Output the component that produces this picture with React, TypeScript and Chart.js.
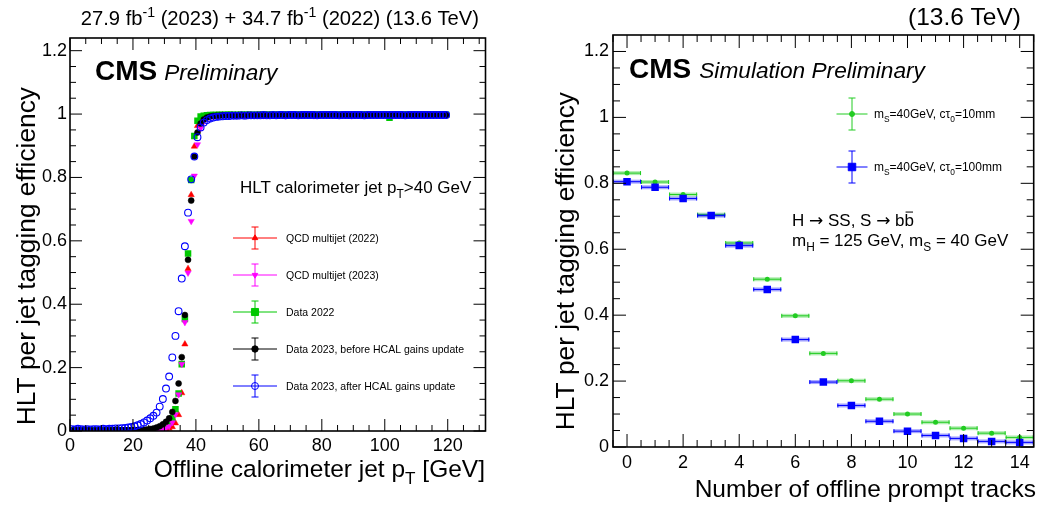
import React, { useEffect, useRef } from 'react';
import { Chart, registerables } from 'chart.js';
Chart.register(...registerables);

const FONT = '"Liberation Sans", Arial, Helvetica, sans-serif';
const SYMFONT = '"DejaVu Sans", "Liberation Sans", sans-serif';

// ---------------- Left panel data ----------------
const ptBins = [
  0.5, 1.5, 2.5, 3.5, 4.5, 5.5, 6.5, 7.5, 8.5, 9.5,
  10.5, 11.5, 12.5, 13.5, 14.5, 15.5, 16.5, 17.5, 18.5, 19.5,
  20.5, 21.5, 22.5, 23.5, 24.5, 25.5, 26.5, 27.5, 28.5, 29.5,
  30.5, 31.5, 32.5, 33.5, 34.5, 35.5, 36.5, 37.5, 38.5, 39.5,
  40.5, 41.5, 42.5, 43.5, 44.5, 45.5, 46.5, 47.5, 48.5, 49.5,
  50.5, 51.5, 52.5, 53.5, 54.5, 55.5, 56.5, 57.5, 58.5, 59.5,
  60.5, 61.5, 62.5, 63.5, 64.5, 65.5, 66.5, 67.5, 68.5, 69.5,
  70.5, 71.5, 72.5, 73.5, 74.5, 75.5, 76.5, 77.5, 78.5, 79.5,
  80.5, 81.5, 82.5, 83.5, 84.5, 85.5, 86.5, 87.5, 88.5, 89.5,
  90.5, 91.5, 92.5, 93.5, 94.5, 95.5, 96.5, 97.5, 98.5, 99.5,
  100.5, 101.5, 102.5, 103.5, 104.5, 105.5, 106.5, 107.5, 108.5, 109.5,
  110.5, 111.5, 112.5, 113.5, 114.5, 115.5, 116.5, 117.5, 118.5, 119.5,
];

const qcd2022 = [
  0.000, 0.001, 0.000, 0.001, 0.000, 0.001, 0.000, 0.001, 0.001, 0.000,
  0.001, 0.000, 0.001, 0.001, 0.000, 0.001, 0.001, 0.001, 0.000, 0.001,
  0.001, 0.001, 0.001, 0.001, 0.001, 0.001, 0.001, 0.001, 0.002, 0.003,
  0.005, 0.008, 0.013, 0.025, 0.051, 0.120, 0.274, 0.512, 0.745, 0.898,
  0.963, 0.984, 0.991, 0.994, 0.995, 0.996, 0.996, 0.996, 0.997, 0.996,
  0.997, 0.996, 0.997, 0.997, 0.996, 0.997, 0.997, 0.997, 0.996, 0.997,
  0.997, 0.997, 0.996, 0.997, 0.997, 0.997, 0.997, 0.996, 0.997, 0.997,
  0.997, 0.997, 0.997, 0.997, 0.996, 0.997, 0.997, 0.997, 0.997, 0.997,
  0.997, 0.996, 0.997, 0.997, 0.997, 0.997, 0.997, 0.997, 0.996, 0.997,
  0.997, 0.997, 0.997, 0.997, 0.997, 0.996, 0.997, 0.997, 0.997, 0.997,
  0.997, 0.997, 0.997, 0.996, 0.997, 0.997, 0.997, 0.997, 0.997, 0.997,
  0.996, 0.997, 0.997, 0.997, 0.997, 0.997, 0.997, 0.997, 0.997, 0.997,
];

const qcd2023 = [
  0.001, 0.001, 0.001, 0.001, 0.001, 0.001, 0.001, 0.001, 0.001, 0.001,
  0.001, 0.001, 0.001, 0.001, 0.001, 0.001, 0.001, 0.001, 0.001, 0.001,
  0.001, 0.001, 0.001, 0.001, 0.001, 0.001, 0.002, 0.003, 0.004, 0.006,
  0.009, 0.015, 0.027, 0.052, 0.115, 0.211, 0.343, 0.499, 0.662, 0.805,
  0.904, 0.955, 0.976, 0.986, 0.990, 0.992, 0.993, 0.994, 0.995, 0.995,
  0.995, 0.996, 0.995, 0.996, 0.996, 0.995, 0.996, 0.996, 0.996, 0.996,
  0.996, 0.995, 0.996, 0.996, 0.996, 0.996, 0.996, 0.996, 0.995, 0.996,
  0.996, 0.996, 0.996, 0.996, 0.996, 0.996, 0.996, 0.995, 0.996, 0.996,
  0.996, 0.996, 0.996, 0.996, 0.996, 0.996, 0.996, 0.996, 0.996, 0.995,
  0.996, 0.996, 0.996, 0.996, 0.996, 0.996, 0.996, 0.996, 0.996, 0.996,
  0.996, 0.996, 0.995, 0.996, 0.996, 0.996, 0.996, 0.996, 0.996, 0.996,
  0.996, 0.996, 0.996, 0.996, 0.996, 0.996, 0.996, 0.996, 0.996, 0.996,
];

const data2022 = [
  0.001, 0.001, 0.001, 0.001, 0.001, 0.001, 0.001, 0.001, 0.001, 0.001,
  0.001, 0.001, 0.001, 0.001, 0.001, 0.002, 0.001, 0.001, 0.002, 0.001,
  0.002, 0.002, 0.002, 0.002, 0.002, 0.002, 0.003, 0.005, 0.007, 0.011,
  0.017, 0.026, 0.040, 0.069, 0.118, 0.211, 0.353, 0.560, 0.792, 0.931,
  0.979, 0.992, 0.995, 0.996, 0.997, 0.997, 0.997, 0.998, 0.997, 0.998,
  0.998, 0.998, 0.997, 0.998, 0.998, 0.998, 0.998, 0.998, 0.997, 0.998,
  0.998, 0.998, 0.998, 0.998, 0.998, 0.997, 0.998, 0.998, 0.998, 0.998,
  0.998, 0.998, 0.998, 0.998, 0.998, 0.998, 0.997, 0.998, 0.998, 0.998,
  0.998, 0.998, 0.998, 0.998, 0.998, 0.998, 0.998, 0.998, 0.997, 0.998,
  0.998, 0.998, 0.998, 0.998, 0.998, 0.998, 0.998, 0.998, 0.998, 0.998,
  0.998, 0.988, 0.998, 0.998, 0.998, 0.998, 0.998, 0.998, 0.998, 0.998,
  0.998, 0.998, 0.998, 0.998, 0.998, 0.998, 0.998, 0.998, 0.998, 0.998,
];

const data2023Before = [
  0.002, 0.002, 0.003, 0.002, 0.002, 0.003, 0.002, 0.002, 0.002, 0.003,
  0.002, 0.003, 0.002, 0.003, 0.003, 0.002, 0.003, 0.003, 0.003, 0.003,
  0.003, 0.003, 0.004, 0.004, 0.005, 0.006, 0.008, 0.011, 0.015, 0.021,
  0.029, 0.040, 0.060, 0.095, 0.150, 0.233, 0.366, 0.540, 0.727, 0.866,
  0.942, 0.970, 0.983, 0.989, 0.992, 0.994, 0.995, 0.995, 0.996, 0.996,
  0.996, 0.997, 0.996, 0.996, 0.997, 0.996, 0.997, 0.997, 0.996, 0.997,
  0.997, 0.996, 0.997, 0.997, 0.997, 0.997, 0.996, 0.997, 0.997, 0.997,
  0.997, 0.997, 0.997, 0.996, 0.997, 0.997, 0.997, 0.997, 0.997, 0.997,
  0.997, 0.997, 0.997, 0.997, 0.996, 0.997, 0.997, 0.997, 0.997, 0.997,
  0.997, 0.997, 0.997, 0.997, 0.997, 0.997, 0.997, 0.996, 0.997, 0.997,
  0.997, 0.997, 0.997, 0.997, 0.997, 0.997, 0.997, 0.997, 0.997, 0.996,
  0.997, 0.997, 0.997, 0.997, 0.997, 0.997, 0.997, 0.997, 0.997, 0.997,
];

const data2023After = [
  0.006, 0.005, 0.007, 0.006, 0.005, 0.006, 0.005, 0.006, 0.006, 0.005,
  0.007, 0.006, 0.007, 0.007, 0.008, 0.008, 0.009, 0.010, 0.011, 0.013,
  0.015, 0.018, 0.022, 0.027, 0.033, 0.040, 0.048, 0.058, 0.077, 0.101,
  0.134, 0.172, 0.232, 0.300, 0.378, 0.481, 0.583, 0.689, 0.794, 0.866,
  0.927, 0.958, 0.973, 0.981, 0.986, 0.989, 0.991, 0.992, 0.993, 0.994,
  0.994, 0.995, 0.995, 0.995, 0.996, 0.995, 0.996, 0.996, 0.996, 0.996,
  0.996, 0.997, 0.996, 0.996, 0.997, 0.996, 0.997, 0.997, 0.996, 0.997,
  0.997, 0.997, 0.996, 0.997, 0.997, 0.997, 0.997, 0.997, 0.996, 0.997,
  0.997, 0.997, 0.997, 0.997, 0.997, 0.996, 0.997, 0.997, 0.997, 0.997,
  0.997, 0.997, 0.997, 0.996, 0.997, 0.997, 0.997, 0.997, 0.997, 0.997,
  0.997, 0.997, 0.997, 0.997, 0.997, 0.997, 0.996, 0.997, 0.997, 0.997,
  0.997, 0.997, 0.997, 0.997, 0.997, 0.997, 0.997, 0.997, 0.997, 0.997,
];

const leftXTicks = [0, 20, 40, 60, 80, 100, 120];
const leftXMinor = [5, 10, 15, 25, 30, 35, 45, 50, 55, 65, 70, 75, 85, 90, 95, 105, 110, 115, 125, 130];
const leftYTicks = [0, 0.2, 0.4, 0.6, 0.8, 1, 1.2];
const effMinor = [0.05, 0.1, 0.15, 0.25, 0.3, 0.35, 0.45, 0.5, 0.55, 0.65, 0.7, 0.75, 0.85, 0.9, 0.95, 1.05, 1.1, 1.15];

// ---------------- Right panel data ----------------
const nTracks = [0, 1, 2, 3, 4, 5, 6, 7, 8, 9, 10, 11, 12, 13, 14];
const eff10mm = [0.831, 0.804, 0.766, 0.705, 0.619, 0.509, 0.398, 0.284, 0.201, 0.145, 0.100, 0.075, 0.057, 0.042, 0.029];
const eff100mm = [0.805, 0.788, 0.754, 0.702, 0.611, 0.478, 0.326, 0.197, 0.126, 0.078, 0.048, 0.035, 0.026, 0.017, 0.014];
const rightXTicks = [0, 2, 4, 6, 8, 10, 12, 14];
const rightXMinor = [-0.5, 0.5, 1, 1.5, 2.5, 3, 3.5, 4.5, 5, 5.5, 6.5, 7, 7.5, 8.5, 9, 9.5, 10.5, 11, 11.5, 12.5, 13, 13.5, 14.5];
const rightYTicks = [0, 0.2, 0.4, 0.6, 0.8, 1, 1.2];

const RED = '#ff0000';
const MAGENTA = '#ff00ff';
const GREEN_L = '#00c800';
const BLACK = '#000000';
const BLUE = '#0000ff';
const GREEN_R = '#22cc22';

type Seg = { t: string; sub?: boolean; sup?: boolean; bar?: boolean; font?: string };

function fontStr(size: number, weight = 'normal', italic = false, family = FONT) {
  return `${italic ? 'italic ' : ''}${weight} ${size}px ${family}`;
}

function drawRich(
  ctx: CanvasRenderingContext2D, x: number, y: number, segs: Seg[], size: number,
  opt: { align?: 'left' | 'right' | 'center'; weight?: string; italic?: boolean; color?: string } = {}
) {
  const weight = opt.weight || 'normal';
  const italic = !!opt.italic;
  ctx.save();
  ctx.fillStyle = opt.color || '#000';
  ctx.strokeStyle = opt.color || '#000';
  ctx.textBaseline = 'alphabetic';
  ctx.textAlign = 'left';
  let total = 0;
  const parts = segs.map((s) => {
    const fs = s.sub || s.sup ? size * 0.7 : size;
    ctx.font = fontStr(fs, weight, italic, s.font || FONT);
    const w = ctx.measureText(s.t).width;
    total += w;
    return { s, fs, w };
  });
  let cx = opt.align === 'right' ? x - total : opt.align === 'center' ? x - total / 2 : x;
  for (const p of parts) {
    ctx.font = fontStr(p.fs, weight, italic, p.s.font || FONT);
    const dy = p.s.sub ? size * 0.3 : p.s.sup ? -size * 0.42 : 0;
    ctx.fillText(p.s.t, cx, y + dy);
    if (p.s.bar) {
      ctx.lineWidth = Math.max(1, size * 0.06);
      ctx.beginPath();
      ctx.moveTo(cx + 1, y - size * 0.82);
      ctx.lineTo(cx + p.w - 1, y - size * 0.82);
      ctx.stroke();
    }
    cx += p.w;
  }
  ctx.restore();
  return total;
}

function drawMarker(ctx: CanvasRenderingContext2D, style: string, x: number, y: number, r: number, color: string, filled = true) {
  ctx.save();
  ctx.fillStyle = color;
  ctx.strokeStyle = color;
  ctx.lineWidth = 1;
  ctx.beginPath();
  if (style === 'circle') {
    ctx.arc(x, y, r, 0, Math.PI * 2);
  } else if (style === 'rect') {
    const s = Math.SQRT1_2 * r;
    ctx.rect(x - s, y - s, 2 * s, 2 * s);
  } else if (style === 'triUp' || style === 'triDown') {
    const sgn = style === 'triUp' ? 1 : -1;
    for (let k = 0; k < 3; k++) {
      const a = (k * 2 * Math.PI) / 3;
      const px = x + Math.sin(a) * r;
      const py = y - sgn * Math.cos(a) * r;
      if (k === 0) ctx.moveTo(px, py); else ctx.lineTo(px, py);
    }
    ctx.closePath();
  }
  if (filled) ctx.fill();
  ctx.stroke();
  ctx.restore();
}

function drawErrorCross(ctx: CanvasRenderingContext2D, x: number, y: number, hw: number, hh: number, color: string) {
  ctx.save();
  ctx.strokeStyle = color;
  ctx.lineWidth = 1;
  ctx.beginPath();
  ctx.moveTo(x - hw, y); ctx.lineTo(x + hw, y);
  ctx.moveTo(x, y - hh); ctx.lineTo(x, y + hh);
  ctx.moveTo(x - 3.5, y - hh); ctx.lineTo(x + 3.5, y - hh);
  ctx.moveTo(x - 3.5, y + hh); ctx.lineTo(x + 3.5, y + hh);
  ctx.stroke();
  ctx.restore();
}

function drawFrameAndTicks(chart: any, xMaj: number[], xMin: number[], yMaj: number[], yMin: number[], major: number, minor: number) {
  const { ctx, chartArea: a, scales } = chart;
  const xs = scales.x;
  const ys = scales.y;
  ctx.save();
  ctx.strokeStyle = '#000';
  ctx.lineWidth = 1;
  ctx.beginPath();
  const vx = (v: number, len: number) => {
    const p = xs.getPixelForValue(v);
    if (p < a.left - 0.5 || p > a.right + 0.5) return;
    ctx.moveTo(p, a.bottom); ctx.lineTo(p, a.bottom - len);
    ctx.moveTo(p, a.top); ctx.lineTo(p, a.top + len);
  };
  const vy = (v: number, len: number) => {
    const p = ys.getPixelForValue(v);
    if (p < a.top - 0.5 || p > a.bottom + 0.5) return;
    ctx.moveTo(a.left, p); ctx.lineTo(a.left + len, p);
    ctx.moveTo(a.right, p); ctx.lineTo(a.right - len, p);
  };
  xMaj.forEach((v) => vx(v, major));
  xMin.forEach((v) => vx(v, minor));
  yMaj.forEach((v) => vy(v, major));
  yMin.forEach((v) => vy(v, minor));
  ctx.stroke();
  ctx.lineWidth = 1.6;
  ctx.strokeRect(a.left, a.top, a.right - a.left, a.bottom - a.top);
  ctx.restore();
}

const leftLegend = [
  { label: 'QCD multijet (2022)', style: 'triUp', r: 3.2, color: RED, filled: true },
  { label: 'QCD multijet (2023)', style: 'triDown', r: 3.2, color: MAGENTA, filled: true },
  { label: 'Data 2022', style: 'rect', r: 5, color: GREEN_L, filled: true },
  { label: 'Data 2023, before HCAL gains update', style: 'circle', r: 3.2, color: BLACK, filled: true },
  { label: 'Data 2023, after HCAL gains update', style: 'circle', r: 3.5, color: BLUE, filled: false },
];

const leftPlugin = {
  id: 'leftDecor',
  afterDraw(chart: any) {
    const ctx = chart.ctx as CanvasRenderingContext2D;
    drawFrameAndTicks(chart, leftXTicks, leftXMinor, leftYTicks, effMinor, 12, 6);
    // header
    drawRich(ctx, 479, 25, [
      { t: '27.9 fb' }, { t: '-1', sup: true }, { t: ' (2023) + 34.7 fb' }, { t: '-1', sup: true }, { t: ' (2022) (13.6 TeV)' },
    ], 20.2, { align: 'right' });
    // CMS label
    const w = drawRich(ctx, 95, 80, [{ t: 'CMS' }], 28, { weight: 'bold' });
    drawRich(ctx, 95 + w + 7, 80, [{ t: 'Preliminary' }], 22.6, { italic: true });
    // cut label
    drawRich(ctx, 240, 193, [{ t: 'HLT calorimeter jet p' }, { t: 'T', sub: true }, { t: '>40 GeV' }], 17);
    // legend
    leftLegend.forEach((e, i) => {
      const y = 238 + i * 37;
      drawErrorCross(ctx, 255, y, 22, 11, e.color);
      drawMarker(ctx, e.style, 255, y, e.r, e.color, e.filled);
      drawRich(ctx, 286, y + 4, [{ t: e.label }], 10.5);
    });
    // axis titles
    drawRich(ctx, 485, 477, [{ t: 'Offline calorimeter jet p' }, { t: 'T', sub: true }, { t: ' [GeV]' }], 24.5, { align: 'right' });
    ctx.save();
    ctx.translate(35, 87);
    ctx.rotate(-Math.PI / 2);
    drawRich(ctx, 0, 0, [{ t: 'HLT per jet tagging efficiency' }], 26.3, { align: 'right' });
    ctx.restore();
  },
};

const rightErrPlugin = {
  id: 'rightErr',
  beforeDatasetsDraw(chart: any) {
    const ctx = chart.ctx as CanvasRenderingContext2D;
    const xs = chart.scales.x;
    const ys = chart.scales.y;
    chart.data.datasets.forEach((ds: any) => {
      ctx.save();
      ds.data.forEach((p: any) => {
        const x0 = xs.getPixelForValue(p.x - 0.5);
        const x1 = xs.getPixelForValue(p.x + 0.5);
        const y = ys.getPixelForValue(p.y);
        ctx.globalAlpha = 0.35;
        ctx.fillStyle = ds.borderColor;
        ctx.fillRect(x0, y - 2, x1 - x0, 4);
        ctx.globalAlpha = 1;
        ctx.strokeStyle = ds.borderColor;
        ctx.lineWidth = 1;
        ctx.beginPath();
        ctx.moveTo(x0, y); ctx.lineTo(x1, y);
        ctx.moveTo(x0 + 0.5, y - 2); ctx.lineTo(x0 + 0.5, y + 2);
        ctx.moveTo(x1 - 0.5, y - 2); ctx.lineTo(x1 - 0.5, y + 2);
        ctx.stroke();
      });
      ctx.restore();
    });
  },
};

const rightPlugin = {
  id: 'rightDecor',
  afterDraw(chart: any) {
    const ctx = chart.ctx as CanvasRenderingContext2D;
    drawFrameAndTicks(chart, rightXTicks, rightXMinor, rightYTicks, effMinor, 13, 7);
    drawRich(ctx, 501, 25, [{ t: '(13.6 TeV)' }], 24.5, { align: 'right' });
    const w = drawRich(ctx, 109, 78, [{ t: 'CMS' }], 28, { weight: 'bold' });
    drawRich(ctx, 109 + w + 8, 78, [{ t: 'Simulation Preliminary' }], 22.7, { italic: true });
    // legend
    const entries = [
      { y: 114, color: GREEN_R, style: 'circle', r: 2.5, seg: [{ t: 'm' }, { t: 'S', sub: true }, { t: '=40GeV, c\u03C4' }, { t: '0', sub: true }, { t: '=10mm' }] },
      { y: 167, color: BLUE, style: 'rect', r: 5.3, seg: [{ t: 'm' }, { t: 'S', sub: true }, { t: '=40GeV, c\u03C4' }, { t: '0', sub: true }, { t: '=100mm' }] },
    ];
    entries.forEach((e) => {
      drawErrorCross(ctx, 332, e.y, 15.5, 16, e.color);
      drawMarker(ctx, e.style, 332, e.y, e.r, e.color, true);
      drawRich(ctx, 354, e.y + 4, e.seg as Seg[], 12);
    });
    drawRich(ctx, 272, 226, [
      { t: 'H ' }, { t: '\u2192', font: SYMFONT }, { t: ' SS, S ' }, { t: '\u2192', font: SYMFONT }, { t: ' b' }, { t: 'b', bar: true },
    ], 17);
    drawRich(ctx, 272, 246, [{ t: 'm' }, { t: 'H', sub: true }, { t: ' = 125 GeV, m' }, { t: 'S', sub: true }, { t: ' = 40 GeV' }], 17);
    drawRich(ctx, 516, 497, [{ t: 'Number of offline prompt tracks' }], 24.5, { align: 'right' });
    ctx.save();
    ctx.translate(54, 92);
    ctx.rotate(-Math.PI / 2);
    drawRich(ctx, 0, 0, [{ t: 'HLT per jet tagging efficiency' }], 26.3, { align: 'right' });
    ctx.restore();
  },
};

function axisCommon(min: number, max: number, ticks: number[], size: number, isX: boolean, pad: number) {
  return {
    type: 'linear' as const,
    min,
    max,
    afterBuildTicks: (s: any) => { s.ticks = ticks.map((v) => ({ value: v })); },
    afterFit: (s: any) => { if (isX) s.height = size; else s.width = size; },
    grid: { display: false, drawTicks: false },
    border: { display: false },
    ticks: {
      color: '#000',
      font: { family: FONT, size: 18 },
      padding: pad,
      autoSkip: false,
      maxRotation: 0,
      callback: (v: any) => String(v),
    },
  };
}

function pts(xs: number[], ys: number[]) {
  return xs.map((x, i) => ({ x, y: ys[i] }));
}

export default function App() {
  const leftRef = useRef<HTMLCanvasElement>(null);
  const rightRef = useRef<HTMLCanvasElement>(null);

  useEffect(() => {
    const left = new Chart(leftRef.current as HTMLCanvasElement, {
      type: 'scatter',
      data: {
        datasets: [
          { label: 'QCD multijet (2022)', data: pts(ptBins, qcd2022), pointStyle: 'triangle', pointRadius: 3.6, backgroundColor: RED, borderColor: RED, borderWidth: 0.5, order: 4 },
          { label: 'QCD multijet (2023)', data: pts(ptBins, qcd2023), pointStyle: 'triangle', rotation: 180, pointRadius: 3.6, backgroundColor: MAGENTA, borderColor: MAGENTA, borderWidth: 0.5, order: 2 },
          { label: 'Data 2022', data: pts(ptBins, data2022), pointStyle: 'rect', pointRadius: 4.6, backgroundColor: GREEN_L, borderColor: GREEN_L, borderWidth: 0, order: 3 },
          { label: 'Data 2023, before HCAL gains update', data: pts(ptBins, data2023Before), pointStyle: 'circle', pointRadius: 3, backgroundColor: BLACK, borderColor: BLACK, borderWidth: 0.5, order: 1 },
          { label: 'Data 2023, after HCAL gains update', data: pts(ptBins, data2023After), pointStyle: 'circle', pointRadius: 3.4, backgroundColor: 'rgba(0,0,0,0)', borderColor: BLUE, borderWidth: 1.1, order: 0 },
        ] as any,
      },
      options: {
        animation: false,
        responsive: false,
        devicePixelRatio: 1,
        layout: { padding: { top: 38, right: 34.5, left: 0, bottom: 0 } },
        plugins: { legend: { display: false }, tooltip: { enabled: false }, title: { display: false } },
        scales: {
          x: axisCommon(0, 132, leftXTicks, 76, true, 4) as any,
          y: axisCommon(0, 1.24, leftYTicks, 70, false, 3) as any,
        },
      },
      plugins: [leftPlugin],
    });

    const right = new Chart(rightRef.current as HTMLCanvasElement, {
      type: 'scatter',
      data: {
        datasets: [
          { label: 'mS=40GeV, ctau0=10mm', data: pts(nTracks, eff10mm), pointStyle: 'circle', pointRadius: 2.5, backgroundColor: GREEN_R, borderColor: GREEN_R, borderWidth: 0, order: 1 },
          { label: 'mS=40GeV, ctau0=100mm', data: pts(nTracks, eff100mm), pointStyle: 'rect', pointRadius: 5.3, backgroundColor: BLUE, borderColor: BLUE, borderWidth: 0, order: 0 },
        ] as any,
      },
      options: {
        animation: false,
        responsive: false,
        devicePixelRatio: 1,
        layout: { padding: { top: 35, right: 3, left: 0, bottom: 0 } },
        plugins: { legend: { display: false }, tooltip: { enabled: false }, title: { display: false } },
        scales: {
          x: axisCommon(-0.5, 14.5, rightXTicks, 60, true, 5) as any,
          y: axisCommon(0, 1.25, rightYTicks, 93, false, 4) as any,
        },
      },
      plugins: [rightErrPlugin, rightPlugin],
    });

    return () => {
      left.destroy();
      right.destroy();
    };
  }, []);

  return (
    <div style={{ position: 'absolute', left: 0, top: 0, width: 1039, height: 507, background: '#fff', overflow: 'hidden' }}>
      <canvas ref={leftRef} width={520} height={507} style={{ position: 'absolute', left: 0, top: 0, width: 520, height: 507 }} />
      <canvas ref={rightRef} width={519} height={507} style={{ position: 'absolute', left: 520, top: 0, width: 519, height: 507 }} />
    </div>
  );
}
